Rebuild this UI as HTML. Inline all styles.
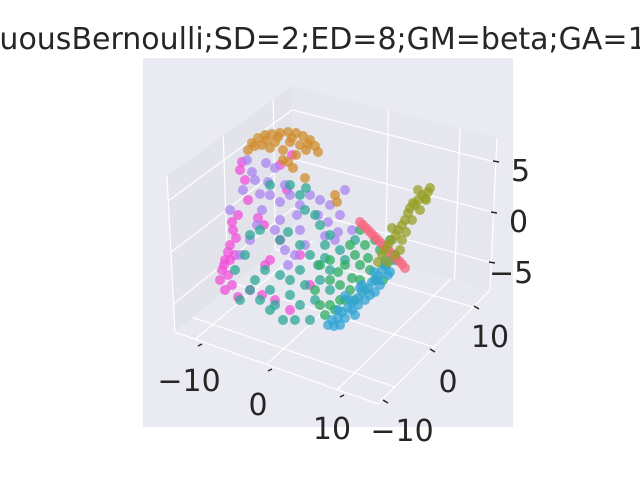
<!DOCTYPE html>
<html><head><meta charset="utf-8"><style>
body{margin:0;background:#fff;width:640px;height:480px;overflow:hidden}
svg text{font-family:"DejaVu Sans","Liberation Sans",sans-serif;fill:#262626}
</style></head><body>
<svg id="chart" width="640" height="480" viewBox="0 0 640 480" xmlns="http://www.w3.org/2000/svg">
<rect x="143" y="58" width="370" height="369" fill="#eaeaf2"/>
<polygon points="167,176 292,86 293,235 175,332" fill="#e3e3ec"/>
<polygon points="292,86 497,138 490,290 293,235" fill="#e6e6ee"/>
<polygon points="175,332 293,235 490,290 378,404" fill="#e8e8f0"/>
<g id="grid" stroke="#fff" stroke-width="1.2" fill="none"></g>
<g id="points"></g>
<g stroke="#262626" stroke-width="1.5">
<line x1="198" y1="346" x2="202" y2="344"/><line x1="268" y1="371" x2="272" y2="369"/><line x1="340" y1="397" x2="344" y2="395"/>
</g>
<g stroke="#262626" stroke-width="1.5">
<line x1="383" y1="400" x2="388" y2="403"/><line x1="430" y1="349" x2="435" y2="352"/><line x1="474" y1="306" x2="479" y2="309"/>
</g>
<g stroke="#262626" stroke-width="1.5">
<line x1="493" y1="161" x2="499" y2="162"/><line x1="491" y1="212" x2="497" y2="213"/><line x1="489" y1="262" x2="495" y2="263"/>
</g>
<g font-size="30">
<text x="189" y="391" text-anchor="middle">−10</text>
<text x="258" y="415" text-anchor="middle">0</text>
<text x="332" y="439" text-anchor="middle">10</text>
<text x="402" y="441" text-anchor="middle">−10</text>
<text x="448" y="392" text-anchor="middle">0</text>
<text x="490" y="347" text-anchor="middle">10</text>
<text x="511" y="181">5</text>
<text x="509" y="232">0</text>
<text x="489" y="283">−5</text>
<text x="-98" y="49" font-size="30">ContinuousBernoulli;SD=2;ED=8;GM=beta;GA=1</text>
</g>
</svg>
<script>
const orangePts=[[108,280],[112,287],[118,292],[125,295],[132,296],[140,297],[148,298],[156,297],[163,294],[170,290],[175,284],[178,278],[122,285],[135,288],[150,288],[160,285],[143,280],[156,275],[166,280],[143,270],[148,268],[153,262],[165,252],[195,235],[197,228],[126,290],[138,293],[115,284],[130,282],[152,292],[168,286]];
const purplePts=[[107,270],[103,240],[115,250],[126,267],[135,262],[130,235],[145,245],[150,235],[160,225],[170,235],[178,215],[190,225],[200,215],[205,240],[122,220],[117,205],[135,200],[140,210],[160,200],[185,194],[195,190],[198,198],[145,180],[155,175],[165,185],[100,175],[110,190],[90,220],[180,230],[157,215],[148,165],[212,200],[112,258],[128,248],[140,228],[120,236],[188,208]];
const pinkPts=[[100,260],[105,250],[108,230],[98,215],[93,200],[90,185],[85,170],[82,160],[80,150],[85,140],[88,155],[95,175],[118,212],[124,205],[130,170],[140,190],[135,130],[150,120],[125,165],[90,170],[160,175],[170,145],[140,265],[152,275],[147,240],[92,208],[122,135],[110,140],[98,133],[88,178],[84,165],[92,145],[102,268],[96,192]];
const tealPts=[[150,245],[160,235],[165,220],[175,215],[180,205],[190,195],[185,185],[200,180],[205,170],[190,160],[178,165],[160,160],[150,150],[140,155],[130,140],[120,130],[110,140],[100,130],[130,120],[143,110],[155,110],[160,125],[175,130],[170,110],[190,140],[140,190],[120,200],[110,195],[95,160],[105,175],[160,185],[170,175],[180,150],[215,190],[130,245],[166,242],[125,160],[135,125],[150,135],[165,145],[185,172],[148,198],[115,150]];
const greenPts=[[180,165],[190,170],[205,165],[215,175],[225,185],[235,190],[240,180],[245,165],[230,160],[220,150],[210,140],[200,130],[190,125],[185,115],[195,120],[205,130],[215,130],[225,140],[235,150],[220,165],[200,145],[190,150],[175,140],[180,125],[250,190],[210,185],[220,200],[243,150],[255,170],[198,158],[228,172],[212,152]];
const bluePts=[[188,105],[192,110],[198,112],[202,118],[208,122],[212,128],[218,132],[222,138],[228,142],[232,148],[238,154],[242,160],[246,164],[252,170],[255,175],[198,120],[210,130],[222,145],[234,158],[245,170],[205,112],[218,125],[230,135],[240,145],[250,158],[200,105],[215,115],[225,130],[235,138],[248,155],[205,134],[220,142],[194,104],[212,120],[238,150]];
const redPts=[[220,208],[223,205],[226,202],[229,199],[232,196],[235,193],[238,190],[241,187],[244,184],[247,181],[250,178],[253,175],[256,172],[259,169],[262,166],[265,162]];
const olivePts=[[238,168],[242,175],[245,180],[248,185],[252,190],[256,195],[258,200],[262,205],[265,210],[268,217],[270,222],[273,227],[278,230],[282,235],[288,238],[286,230],[280,220],[272,210],[262,190],[255,175],[260,180],[252,202],[266,198],[275,225],[285,232],[248,168],[290,242],[278,240]];
const seriesNames=["pink","purple","teal","orange","green","blue","red","olive"];
const NS="http://www.w3.org/2000/svg";
const sx=u=>140+u, sy=v=>430-v;
const colors={pink:"#f050d8",purple:"#a985f0",teal:"#2ea896",orange:"#d08c2c",green:"#2eae62",blue:"#32a4d4",red:"#f5677f",olive:"#97a028"};
const data={pink:pinkPts,purple:purplePts,teal:tealPts,orange:orangePts,green:greenPts,blue:bluePts,red:redPts,olive:olivePts};
const g=document.getElementById('points');
seriesNames.forEach(n=>{data[n].forEach(p=>{const c=document.createElementNS(NS,'circle');


c.setAttribute('cx',sx(p[0]));c.setAttribute('cy',sy(p[1]));c.setAttribute('r',5);c.setAttribute('fill',colors[n]);c.setAttribute('fill-opacity',0.75);g.appendChild(c);});});
const grid=document.getElementById('grid');
function lerp(a,b,t){return [a[0]+(b[0]-a[0])*t,a[1]+(b[1]-a[1])*t];}
function ln(a,b){const l=document.createElementNS(NS,'line');


l.setAttribute('x1',a[0]);l.setAttribute('y1',a[1]);l.setAttribute('x2',b[0]);l.setAttribute('y2',b[1]);grid.appendChild(l);}
function pane(p0,p1,p2,p3,fu,fv){fu.forEach(t=>ln(lerp(p0,p1,t),lerp(p3,p2,t)));fv.forEach(t=>ln(lerp(p0,p3,t),lerp(p1,p2,t)));}
const LT=[167,176],BT=[292,86],RT=[497,138],BB=[293,235],LB=[175,332],RB=[490,290],FF=[378,404];
pane(LT,BT,BB,LB,[0,0.45,0.85],[0.16,0.49,0.82]);
pane(BT,RT,RB,BB,[0.47,0.82,1],[0.16,0.49,0.82]);
pane(LB,BB,RB,FF,[0.15,0.5,0.85],[0.1,0.45,0.8]);
ln(LB,FF);ln(FF,RB);
</script>
</body></html>
